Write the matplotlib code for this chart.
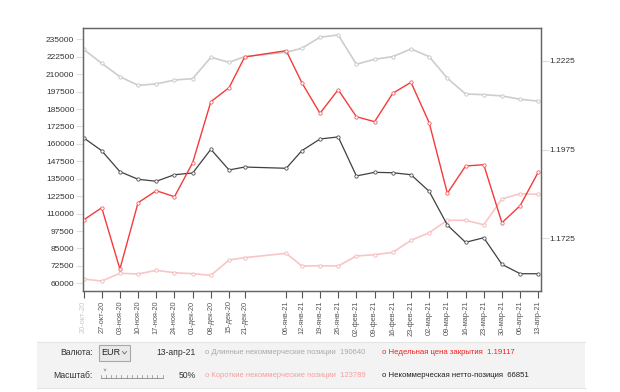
import pandas as pd
import matplotlib.pyplot as plt
from matplotlib.patches import Rectangle
from matplotlib.lines import Line2D

plt.rcParams['font.family'] = ['Liberation Sans', 'DejaVu Sans']

# данные COT по EUR (недели)
dates = ['2020-10-20', '2020-10-27', '2020-11-03', '2020-11-10', '2020-11-17', '2020-11-24',
         '2020-12-01', '2020-12-08', '2020-12-15', '2020-12-21', '2021-01-06', '2021-01-12',
         '2021-01-19', '2021-01-26', '2021-02-02', '2021-02-09', '2021-02-16', '2021-02-23',
         '2021-03-02', '2021-03-09', '2021-03-16', '2021-03-23', '2021-03-30', '2021-04-06',
         '2021-04-13']
tick_labels = ['20-окт-20', '27-окт-20', '03-ноя-20', '10-ноя-20', '17-ноя-20', '24-ноя-20',
               '01-дек-20', '08-дек-20', '15-дек-20', '21-дек-20', '06-янв-21', '12-янв-21',
               '19-янв-21', '26-янв-21', '02-фев-21', '09-фев-21', '16-фев-21', '23-фев-21',
               '02-мар-21', '09-мар-21', '16-мар-21', '23-мар-21', '30-мар-21', '06-апр-21',
               '13-апр-21']
long_pos = [227900, 217800, 208200, 202000, 203000, 205800, 206800, 222100, 218500, 222600,
            225700, 228600, 236500, 238100, 217100, 220700, 222600, 228100, 222600, 207100,
            195800, 195300, 194400, 192000, 190640]
short_pos = [63100, 61600, 67200, 66700, 69300, 67600, 66900, 65700, 76700, 78400,
             81500, 72400, 72600, 72400, 79600, 80500, 82200, 90800, 96300, 105200,
             105200, 102000, 120500, 124300, 123789]
net_pos = [164400, 155100, 140100, 134600, 133200, 137900, 139100, 156100, 141300, 143400,
           142500, 155100, 163500, 165000, 137000, 139600, 139300, 137900, 126000, 101800,
           89400, 92700, 73600, 66900, 66851]
close_price = [1.17765, 1.18111, 1.16386, 1.18252, 1.18590, 1.18421, 1.19378, 1.21096, 1.21490,
               1.22354, 1.22532, 1.21631, 1.20769, 1.21434, 1.20673, 1.20533, 1.21332, 1.21642,
               1.20505, 1.18517, 1.19285, 1.19322, 1.17689, 1.18168, 1.19117]

x = pd.to_datetime(dates)

fig = plt.figure(figsize=(6.2, 3.92), dpi=100)
ax = fig.add_axes([83.3 / 620, 1 - 290.7 / 392, (540.7 - 83.3) / 620, (290.7 - 28.3) / 392])
ax2 = ax.twinx()

mk = dict(marker='o', markersize=2.4, markerfacecolor='white', markeredgewidth=0.6)
ax.plot(x, long_pos, color='#cdcdcd', lw=1.2, **mk, markeredgecolor='#c4c4c4')
ax.plot(x, short_pos, color='#f8c6c6', lw=1.2, **mk, markeredgecolor='#f4b4b4')
ax.plot(x, net_pos, color='#404040', lw=0.9, **mk, markeredgecolor='#505050')
ax2.plot(x, close_price, color='#f53a3a', lw=1.0, **mk, markeredgecolor='#f06060')

ax.set_xlim(x[0] - pd.Timedelta(hours=2), x[-1] + pd.Timedelta(hours=22))
ax.set_ylim(54700, 242900)
ax2.set_ylim(1.15775, 1.23162)

ax.set_yticks(range(60000, 235001, 12500))
ax.set_yticklabels([str(v) for v in range(60000, 235001, 12500)])
ax2.set_yticks([1.1725, 1.1975, 1.2225])
ax2.set_yticklabels(['1.1725', '1.1975', '1.2225'])

ax.set_xticks(x)
ax.set_xticklabels(tick_labels, rotation=90, fontsize=5.3, color='#555555')
ax.get_xticklabels()[0].set_color('#c8c8c8')

ax.tick_params(axis='x', length=5, width=0.8, color='#555555', pad=2)
ax.tick_params(axis='y', length=5, width=0.8, color='#dddddd', labelsize=6, labelcolor='#333333', pad=1.5)
ax2.tick_params(axis='y', length=5.5, width=0.8, color='#dddddd', labelsize=6, labelcolor='#333333', pad=1)

for a in (ax, ax2):
    for s in a.spines.values():
        s.set_color('#666666')
        s.set_linewidth(0.9)

# нижняя панель
W, H = 620, 392
def fx(px):
    return px / W
def fy(py):
    return 1 - py / H

fig.patches.append(Rectangle((fx(37), fy(388)), fx(585 - 37), 46 / H, transform=fig.transFigure,
                             facecolor='#f3f3f3', edgecolor='none', zorder=0))
fig.add_artist(Line2D([fx(37), fx(585)], [fy(341.5), fy(341.5)], color='#e4e4e4', lw=0.8))
fig.add_artist(Line2D([fx(37), fx(585)], [fy(388), fy(388)], color='#e4e4e4', lw=0.8))

fs = 6.2
fig.text(fx(93), fy(352.5), 'Валюта:', ha='right', va='center', fontsize=fs, color='#333333')
fig.patches.append(Rectangle((fx(99), fy(360.5)), fx(31), 15.5 / H, transform=fig.transFigure,
                             facecolor='#e9e9e9', edgecolor='#a8a8a8', lw=0.8))
fig.text(fx(101.5), fy(352.5), 'EUR', ha='left', va='center', fontsize=fs + 0.3, color='#222222')
fig.add_artist(Line2D([fx(122.5), fx(124.5), fx(126.5)], [fy(351.5), fy(354), fy(351.5)],
                      color='#666666', lw=0.6))
fig.text(fx(156.5), fy(352.5), '13-апр-21', ha='left', va='center', fontsize=fs, color='#333333')

fig.text(fx(93), fy(375.5), 'Масштаб:', ha='right', va='center', fontsize=fs, color='#333333')
fig.add_artist(Line2D([fx(101), fx(162.5)], [fy(377.5), fy(377.5)], color='#888888', lw=0.6))
for i in range(13):
    px = 101 + i * (61.5 / 12)
    fig.add_artist(Line2D([fx(px), fx(px)], [fy(377.5), fy(374.5)], color='#888888', lw=0.5))
fig.add_artist(Line2D([fx(104), fx(105), fx(106)], [fy(369), fy(371), fy(369)], color='#888888', lw=0.5))
fig.text(fx(195.5), fy(375.5), '50%', ha='right', va='center', fontsize=fs, color='#333333')

lfs = 5.5
fig.text(fx(205), fy(352.5), 'o Длинные некоммерческие позиции  190640', ha='left', va='center',
         fontsize=lfs, color='#aaaaaa')
fig.text(fx(205), fy(375.5), 'o Короткие некоммерческие позиции  123789', ha='left', va='center',
         fontsize=lfs, color='#f4a0a0')
fig.text(fx(382.5), fy(352.5), 'o Недельная цена закрытия  1.19117', ha='left', va='center',
         fontsize=5.6, color='#f02020')
fig.text(fx(382.5), fy(375.5), 'o Некоммерческая нетто-позиция  66851', ha='left', va='center',
         fontsize=5.6, color='#222222')

fig.savefig('out.png', dpi=100)
